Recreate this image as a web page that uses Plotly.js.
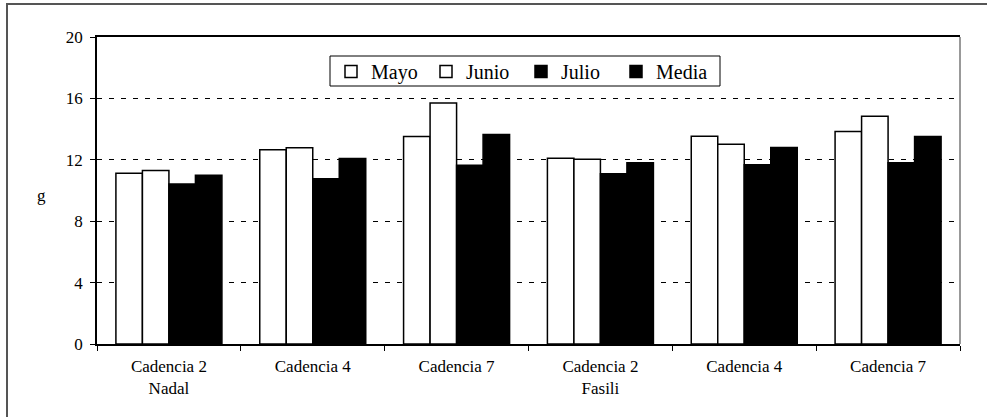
<!DOCTYPE html>
<html>
<head>
<meta charset="utf-8">
<script src="https://cdn.plot.ly/plotly-3.0.1.min.js"></script>
<style>
  html, body { margin: 0; padding: 0; background: #fff; }
  #chart { width: 987px; height: 417px; }
  #chart svg text { font-family: "Liberation Serif", "Times New Roman", serif !important; }
</style>
</head>
<body>
<div id="chart"></div>
<script>
// Peso medio (g) por cadencia de recolección y variedad
const categoryKeys = ["n2", "n4", "n7", "f2", "f4", "f7"];
const tickLabels = [
  "Cadencia 2<br>Nadal", "Cadencia 4", "Cadencia 7",
  "Cadencia 2<br>Fasili", "Cadencia 4", "Cadencia 7"
];
const seriesNames = ["Mayo", "Junio", "Julio", "Media"];
const mayo  = [11.13, 12.65, 13.52, 12.10, 13.54, 13.85];
const junio = [11.30, 12.78, 15.70, 12.04, 13.02, 14.83];
const julio = [10.43, 10.76, 11.65, 11.09, 11.68, 11.81];
const media = [11.00, 12.09, 13.65, 11.80, 12.80, 13.52];
const yTicks = [0, 4, 8, 12, 16, 20];

const seriesValues = [mayo, junio, julio, media];
const fills = ["#ffffff", "#ffffff", "#000000", "#000000"];
const FONT_FAMILY = "Liberation Serif";

const traces = seriesNames.map((name, i) => ({
  type: "bar",
  name: name,
  x: categoryKeys,
  y: seriesValues[i],
  marker: { color: fills[i], line: { color: "#000", width: 1.5 } }
}));

// plot-area pixel box, used to place the legend frame in paper units
const plotLeft = 97, plotRight = 960, plotTop = 37, plotBottom = 344;
const toPaperX = v => (v - plotLeft) / (plotRight - plotLeft);
const toPaperY = v => (plotBottom - v) / (plotBottom - plotTop);

const layout = {
  width: 987,
  height: 417,
  margin: { l: plotLeft, r: 987 - plotRight, t: plotTop, b: 417 - plotBottom },
  paper_bgcolor: "#fff",
  plot_bgcolor: "#fff",
  barmode: "group",
  bargap: 0.263,
  bargroupgap: 0,
  font: { family: FONT_FAMILY, size: 17, color: "#000" },
  showlegend: true,
  legend: {
    orientation: "h",
    x: toPaperX(331), xanchor: "left",
    y: toPaperY(52), yanchor: "top",
    bgcolor: "rgba(0,0,0,0)",
    borderwidth: 0,
    font: { family: FONT_FAMILY, size: 20, color: "#000" },
    entrywidth: 50,
    entrywidthmode: "pixels"
  },
  xaxis: {
    type: "category",
    tickmode: "array",
    tickvals: categoryKeys,
    ticktext: tickLabels,
    tickson: "boundaries",
    ticks: "outside",
    ticklen: 5,
    tickcolor: "#000",
    tickwidth: 1,
    ticklabelstandoff: 6,
    showline: true,
    linecolor: "#000",
    linewidth: 1.5,
    mirror: true,
    showgrid: false,
    zeroline: false,
    tickfont: { family: FONT_FAMILY, size: 17, color: "#000" }
  },
  yaxis: {
    range: [0, 20],
    tickmode: "array",
    tickvals: yTicks,
    ticks: "outside",
    ticklen: 5,
    tickcolor: "#000",
    tickwidth: 1,
    ticklabelstandoff: 4,
    showline: true,
    linecolor: "#000",
    linewidth: 1.5,
    showgrid: true,
    gridcolor: "#000",
    gridwidth: 1,
    griddash: "5px,7px",
    zeroline: false,
    tickfont: { family: FONT_FAMILY, size: 17, color: "#000" }
  },
  annotations: [{
    text: "g",
    xref: "paper", yref: "paper",
    x: toPaperX(41), y: toPaperY(195),
    xanchor: "center", yanchor: "middle",
    showarrow: false,
    font: { family: FONT_FAMILY, size: 17, color: "#000" }
  }],
  shapes: [
    // right edge of the plot area
    { type: "line", xref: "paper", yref: "paper", x0: 1, x1: 1, y0: 0, y1: 1,
      line: { color: "#777", width: 1.5 } },
    // legend frame
    { type: "rect", xref: "paper", yref: "paper",
      x0: toPaperX(330), x1: toPaperX(720), y0: toPaperY(86), y1: toPaperY(56),
      line: { color: "#000", width: 1 }, fillcolor: "#fff", layer: "above" },
    // outer chart frame
    { type: "rect", xref: "paper", yref: "paper",
      x0: toPaperX(7), x1: toPaperX(992), y0: toPaperY(422), y1: toPaperY(4),
      line: { color: "#555", width: 2 }, fillcolor: "rgba(0,0,0,0)", layer: "below" }
  ]
};

Plotly.newPlot("chart", traces, layout, { displayModeBar: false });
</script>
</body>
</html>
